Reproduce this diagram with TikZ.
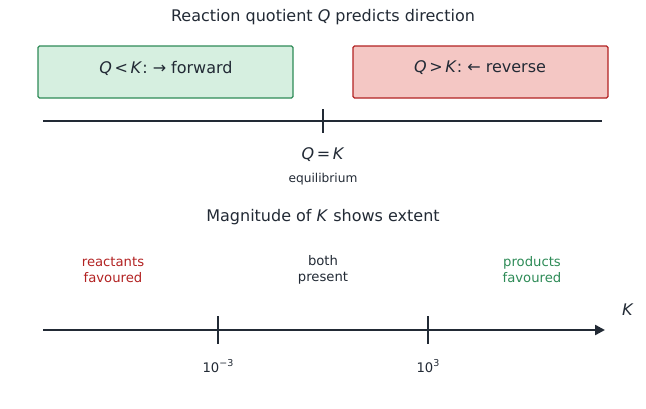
\documentclass[tikz,border=0pt]{standalone}
\usepackage{fontspec}
\setmainfont{DejaVu Sans}
\usetikzlibrary{arrows.meta}
\definecolor{ink}{RGB}{34,42,53}
\definecolor{gfill}{RGB}{214,239,224}
\definecolor{gline}{RGB}{46,139,87}
\definecolor{rfill}{RGB}{244,199,196}
\definecolor{rline}{RGB}{178,34,34}
\newcommand{\mysup}[1]{\raisebox{0.45em}{\fontsize{9.5}{11}\selectfont #1}}
\begin{document}
\begin{tikzpicture}[x=1pt,y=-1pt,
  txt/.style={text=ink,font=\fontsize{16}{18}\selectfont,inner sep=0pt,anchor=center},
  small/.style={text=ink,font=\fontsize{12.2}{14}\selectfont,inner sep=0pt},
  mid/.style={font=\fontsize{13.2}{16}\selectfont,inner sep=0pt,align=center},
  gbox/.style={draw=gline,fill=gfill,line width=1.4pt,rounded corners=1.5pt},
  rbox/.style={draw=rline,fill=rfill,line width=1.4pt,rounded corners=1.5pt},
  axisline/.style={draw=ink,line width=1.5pt},
  tick/.style={draw=ink,line width=2pt}]
\useasboundingbox (0,0) rectangle (646,408);
\node[txt] (title) at (323,17) {Reaction quotient \textit{Q} predicts direction};
\draw[gbox] (38,46) rectangle (293,98);
\node[txt] (fwd) at (166,68) {\textit{Q}\,<\,\textit{K}:\ →\ forward};
\draw[rbox] (353,46) rectangle (608,98);
\node[txt] (rev) at (480,68) {\textit{Q}\,>\,\textit{K}:\ ←\ reverse};
\coordinate (l1) at (43,121);
\coordinate (l2) at (602,121);
\draw[axisline] (l1) -- (l2);
\coordinate (t0a) at (323,109);
\coordinate (t0b) at (323,133);
\draw[tick] (t0a) -- (t0b);
\node[txt] (qk) at (323,155) {\textit{Q}\,=\,\textit{K}};
\node[small] (eq) at (323,179) {equilibrium};
\node[txt] (title2) at (323,217) {Magnitude of \textit{K} shows extent};
\node[mid,text=rline] (react) at (113,270) {reactants\\favoured};
\node[mid,text=ink] (both) at (323,270) {both\\present};
\node[mid,text=gline] (prod) at (532,270) {products\\favoured};
\coordinate (a1) at (43,330);
\coordinate (a2) at (605,330);
\draw[draw=ink,line width=2.4pt,-{Triangle[length=10pt,width=10pt]}] (a1) -- (a2);
\coordinate (t1a) at (218,316);
\coordinate (t1b) at (218,344);
\coordinate (t2a) at (428,316);
\coordinate (t2b) at (428,344);
\draw[tick,line width=1.8pt] (t1a) -- (t1b);
\draw[tick,line width=1.8pt] (t2a) -- (t2b);
\node[mid,text=ink] (lo) at (218,366) {10\mysup{−3}};
\node[mid,text=ink] (hi) at (428,366) {10\mysup{3}};
\node[txt] (K) at (628,310) {\textit{K}};
\end{tikzpicture}
\end{document}
